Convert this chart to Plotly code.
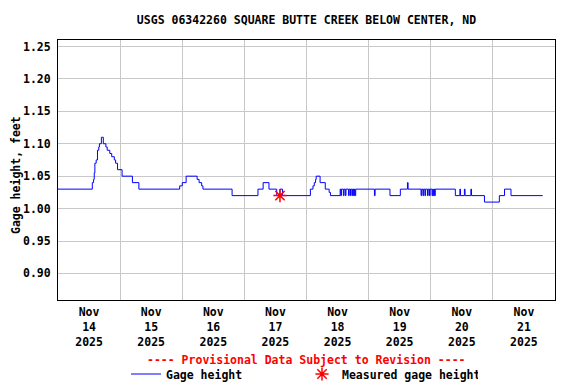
import plotly.graph_objects as go

# Gage height series (step data)
times = [
    "2025-11-14 00:00", "2025-11-14 13:15", "2025-11-14 13:45", "2025-11-14 14:00",
    "2025-11-14 14:15", "2025-11-14 14:45", "2025-11-14 15:15", "2025-11-14 15:45",
    "2025-11-14 16:00", "2025-11-14 16:45", "2025-11-14 17:30", "2025-11-14 18:30",
    "2025-11-14 19:00", "2025-11-14 20:00", "2025-11-14 20:45", "2025-11-14 21:45",
    "2025-11-14 22:15", "2025-11-14 23:00", "2025-11-15 00:45", "2025-11-15 04:45",
    "2025-11-15 07:15", "2025-11-15 23:00", "2025-11-16 00:00", "2025-11-16 01:30",
    "2025-11-16 05:45", "2025-11-16 06:30", "2025-11-16 07:30", "2025-11-16 08:00",
    "2025-11-16 19:15", "2025-11-17 05:15", "2025-11-17 07:15", "2025-11-17 09:30",
    "2025-11-17 12:30", "2025-11-17 13:45", "2025-11-17 14:45", "2025-11-18 01:30",
    "2025-11-18 02:30", "2025-11-18 03:00", "2025-11-18 03:30", "2025-11-18 03:45",
    "2025-11-18 05:15", "2025-11-18 07:15", "2025-11-18 08:45", "2025-11-18 09:15",
    "2025-11-18 13:00", "2025-11-18 13:15", "2025-11-18 13:30", "2025-11-18 14:15",
    "2025-11-18 14:30", "2025-11-18 15:00", "2025-11-18 15:15", "2025-11-18 16:15",
    "2025-11-18 16:30", "2025-11-18 17:00", "2025-11-18 17:15", "2025-11-18 17:45",
    "2025-11-18 18:00", "2025-11-18 18:15", "2025-11-18 18:30", "2025-11-18 18:45",
    "2025-11-18 19:00", "2025-11-19 02:15", "2025-11-19 02:30", "2025-11-19 08:15",
    "2025-11-19 12:15", "2025-11-19 15:00", "2025-11-19 15:15", "2025-11-19 20:15",
    "2025-11-19 20:30", "2025-11-19 21:00", "2025-11-19 21:15", "2025-11-19 21:45",
    "2025-11-19 22:00", "2025-11-19 22:45", "2025-11-19 23:00", "2025-11-19 23:30",
    "2025-11-19 23:45", "2025-11-20 00:30", "2025-11-20 00:45", "2025-11-20 01:00",
    "2025-11-20 01:15", "2025-11-20 01:30", "2025-11-20 01:45", "2025-11-20 09:30",
    "2025-11-20 11:15", "2025-11-20 11:30", "2025-11-20 13:00", "2025-11-20 13:15",
    "2025-11-20 15:30", "2025-11-20 15:45", "2025-11-20 20:45", "2025-11-21 02:30",
    "2025-11-21 04:30", "2025-11-21 07:00", "2025-11-21 19:15",
]
gage = [
    1.03, 1.04, 1.045, 1.055,
    1.07, 1.075, 1.09, 1.095,
    1.10, 1.11, 1.10, 1.095,
    1.09, 1.085, 1.08, 1.075,
    1.07, 1.06, 1.05, 1.04,
    1.03, 1.035, 1.04, 1.05,
    1.045, 1.04, 1.035, 1.03,
    1.02, 1.03, 1.04, 1.03,
    1.02, 1.03, 1.02, 1.03,
    1.035, 1.04, 1.045, 1.05,
    1.04, 1.03, 1.025, 1.02,
    1.03, 1.02, 1.03, 1.02,
    1.03, 1.02, 1.03, 1.02,
    1.03, 1.02, 1.03, 1.02,
    1.03, 1.02, 1.03, 1.02,
    1.03, 1.02, 1.03, 1.02,
    1.03, 1.04, 1.03, 1.02,
    1.03, 1.02, 1.03, 1.02,
    1.03, 1.02, 1.03, 1.02,
    1.03, 1.02, 1.03, 1.02,
    1.03, 1.02, 1.03, 1.02,
    1.03, 1.02, 1.03, 1.02,
    1.03, 1.02, 1.01, 1.02,
    1.03, 1.02, 1.02,
]

# Field measurement
meas_times = ["2025-11-17 13:45"]
meas_vals = [1.02]

# Axis ticks
y_ticks = [0.90, 0.95, 1.00, 1.05, 1.10, 1.15, 1.20, 1.25]
day_starts = ["2025-11-14", "2025-11-15", "2025-11-16", "2025-11-17",
              "2025-11-18", "2025-11-19", "2025-11-20", "2025-11-21", "2025-11-22"]
label_pos = ["2025-11-14 12:00", "2025-11-15 12:00", "2025-11-16 12:00", "2025-11-17 12:00",
             "2025-11-18 12:00", "2025-11-19 12:00", "2025-11-20 12:00", "2025-11-21 12:00"]
label_text = ["Nov<br>14<br>2025", "Nov<br>15<br>2025", "Nov<br>16<br>2025", "Nov<br>17<br>2025",
              "Nov<br>18<br>2025", "Nov<br>19<br>2025", "Nov<br>20<br>2025", "Nov<br>21<br>2025"]

FONT = "DejaVu Sans Mono"
FS = 11.5

# The page body adds an 8 px offset, so the figure is laid out 8 px up/left.
W, H = 568, 376
L, R, T, B = 50, 21, 32, 84
PW, PH = W - L - R, H - T - B

fig = go.Figure()
fig.add_trace(go.Scatter(
    x=times, y=gage, mode="lines", name="Gage height",
    line=dict(color="#0000FF", width=1, shape="hv"),
))
fig.add_trace(go.Scatter(
    x=meas_times, y=meas_vals, mode="markers", name="Measured gage height",
    marker=dict(symbol="asterisk-open", size=11, color="#FF0000",
                line=dict(color="#FF0000", width=1.5)),
))

fig.update_layout(
    width=W, height=H,
    margin=dict(l=L, r=R, t=T, b=B, autoexpand=False),
    paper_bgcolor="white", plot_bgcolor="white",
    font=dict(family=FONT, size=FS, color="black", weight="bold"),
    title=dict(text="USGS 06342260 SQUARE BUTTE CREEK BELOW CENTER, ND",
               xref="paper", x=0.5, xanchor="center",
               yref="container", y=1 - 12 / H, yanchor="middle",
               font=dict(family=FONT, size=FS, color="black", weight="bold")),
    showlegend=True,
    legend=dict(orientation="h", xref="container", yref="container",
                x=118 / W, xanchor="left", y=1 - 366 / H, yanchor="middle",
                entrywidth=131, entrywidthmode="pixels",
                font=dict(family=FONT, size=FS, color="black", weight="bold"),
                bgcolor="rgba(0,0,0,0)", tracegroupgap=0),
    annotations=[
        dict(text="---- Provisional Data Subject to Revision ----",
             xref="paper", yref="paper", x=0.5, xanchor="center",
             y=(292 - 352) / PH, yanchor="middle", showarrow=False,
             font=dict(family=FONT, size=FS, color="#FF0000", weight="bold")),
        dict(text="Gage height, feet", textangle=-90,
             xref="paper", yref="paper", x=(8 - L) / PW, xanchor="center",
             y=(292 - 167) / PH, yanchor="middle", showarrow=False,
             font=dict(family=FONT, size=FS, color="black", weight="bold")),
    ],
)

fig.update_xaxes(
    type="date", range=["2025-11-14 00:00", "2025-11-22 00:00"],
    tickmode="array", tickvals=label_pos, ticktext=label_text,
    showgrid=False, ticks="", showline=True, linecolor="black", linewidth=1,
    mirror=True, zeroline=False, automargin=False, ticklabelstandoff=1,
    minor=dict(tickmode="array", tickvals=day_starts, showgrid=True,
               gridcolor="#C8C8C8", gridwidth=1, ticks=""),
    tickfont=dict(family=FONT, size=FS, color="black", weight="bold"),
)
fig.update_yaxes(
    range=[0.859, 1.26], tickmode="array", tickvals=y_ticks,
    tickformat=".2f", showgrid=True, gridcolor="#C8C8C8", gridwidth=1,
    showline=True, linecolor="black", linewidth=1, mirror=True, zeroline=False,
    ticks="", ticklabelstandoff=4, automargin=False,
    tickfont=dict(family=FONT, size=FS, color="black", weight="bold"),
)

fig.write_html("out.html")
